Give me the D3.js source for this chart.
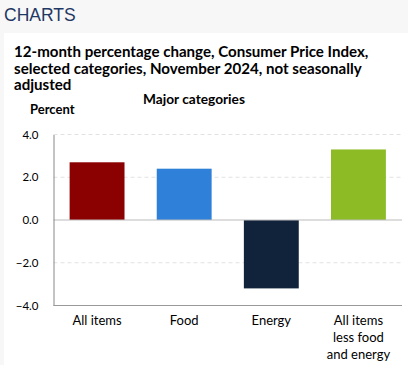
<!DOCTYPE html>
<html><head><meta charset="utf-8">
<script src="https://cdn.jsdelivr.net/npm/d3@7"></script>
<style>
html,body{margin:0;padding:0;background:#f7f7f7;}
svg{display:block;}
</style></head>
<body>
<svg id="c" width="408" height="365"></svg>
<script>
const categories = [["All items"], ["Food"], ["Energy"], ["All items", "less food", "and energy"]];
const values = [2.7, 2.4, -3.2, 3.3];
const colors = ["#8b0000", "#2f80d8", "#10233b", "#8cbb26"];
const yTicks = [-4, -2, 0, 2, 4];
const titleLines = ["12-month percentage change, Consumer Price Index,", "selected categories, November 2024, not seasonally", "adjusted"];

(function () {
const svg = d3.select("#c");
svg.append("rect").attr("x", 0).attr("y", 0).attr("width", 408).attr("height", 365).attr("fill", "#f7f7f7");
svg.append("rect").attr("x", 4).attr("y", 33).attr("width", 404).attr("height", 332).attr("fill", "#ffffff");
svg.append("text").attr("x", 4).attr("y", 21).text("CHARTS")
  .attr("font-family", "Liberation Sans, Arial, sans-serif").attr("font-size", 17.5).attr("fill", "#1f3864");

const tfont = "Lato, 'Noto Sans', sans-serif";
svg.append("g").selectAll("text").data(titleLines).join("text")
  .attr("x", 14).attr("y", (d, i) => 57 + i * 16.5).text(d => d)
  .attr("font-family", tfont).attr("font-weight", "bold").attr("font-size", 15.1).attr("fill", "#000");
svg.append("text").attr("x", 194).attr("y", 104).attr("text-anchor", "middle").text("Major categories")
  .attr("font-family", tfont).attr("font-weight", "bold").attr("font-size", 13.7).attr("fill", "#000");
svg.append("text").attr("x", 30).attr("y", 114).text("Percent")
  .attr("font-family", tfont).attr("font-weight", "bold").attr("font-size", 13).attr("fill", "#000");

const mL = 53.5, mR = 402, mT = 134.5, mB = 305.5;
const y = d3.scaleLinear().domain([-4, 4]).range([mB, mT]);
const x = d3.scaleBand().domain(d3.range(categories.length)).range([mL, mR]).paddingInner(0.37).paddingOuter(0.185);

svg.append("g").selectAll("line").data(yTicks.filter(t => t !== 0 && t !== -4)).join("line")
  .attr("x1", mL).attr("x2", mR).attr("y1", d => y(d)).attr("y2", d => y(d))
  .attr("stroke", "#e2e2e2").attr("stroke-dasharray", "4,3");

svg.append("g").selectAll("rect").data(values).join("rect")
  .attr("x", (d, i) => x(i)).attr("width", x.bandwidth())
  .attr("y", d => y(Math.max(0, d))).attr("height", d => Math.abs(y(d) - y(0)))
  .attr("fill", (d, i) => colors[i]);

svg.append("line").attr("x1", mL).attr("x2", mR).attr("y1", y(0)).attr("y2", y(0))
  .attr("stroke", "#bbbbbb").attr("stroke-width", 1);

const yAxis = d3.axisLeft(y).tickValues(yTicks).tickSize(0).tickPadding(15)
  .tickFormat(d => d < 0 ? "\u2212" + d3.format(".1f")(-d) : d3.format(".1f")(d));
const ga = svg.append("g").attr("transform", `translate(${mL},0)`).call(yAxis);
ga.select(".domain").attr("stroke", "#888888");
ga.selectAll("text").attr("font-family", tfont).attr("font-size", 11.5).attr("fill", "#000");

svg.append("line").attr("x1", mL).attr("x2", mR).attr("y1", mB).attr("y2", mB)
  .attr("stroke", "#999999");

const xl = svg.append("g").selectAll("text").data(categories).join("text")
  .attr("x", (d, i) => x(i) + x.bandwidth() / 2).attr("y", 325).attr("text-anchor", "middle")
  .attr("font-family", tfont).attr("font-size", 13).attr("fill", "#000");
xl.selectAll("tspan").data(d => d).join("tspan")
  .attr("x", function() { return this.parentNode.getAttribute("x"); })
  .attr("dy", (d, i) => i === 0 ? 0 : 17).text(d => d);
})();
</script>
</body></html>
